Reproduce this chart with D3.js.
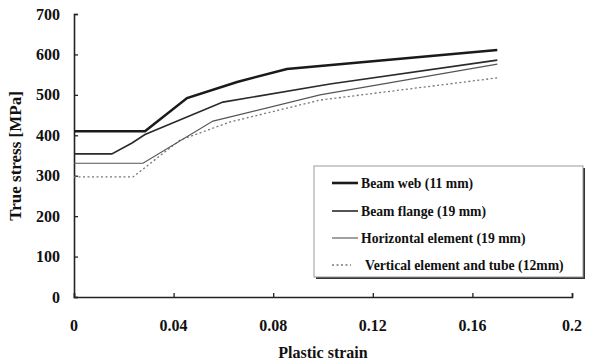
<!DOCTYPE html>
<html><head><meta charset="utf-8">
<script src="https://cdn.jsdelivr.net/npm/d3@7"></script>
<style>
body{margin:0;background:#fff;}
text{font-family:"Liberation Serif","Times New Roman",serif;font-weight:bold;fill:#111;}
</style></head>
<body><svg id="c" width="613" height="364"></svg>
<script>
const xTicks = [0, 0.04, 0.08, 0.12, 0.16, 0.2];
const xTickLabels = ["0", "0.04", "0.08", "0.12", "0.16", "0.2"];
const yTicks = [0, 100, 200, 300, 400, 500, 600, 700];
const seriesNames = ["Beam web (11 mm)", "Beam flange (19 mm)", "Horizontal element (19 mm)", "Vertical element and tube (12mm)"];
const beamWebStrain = [0, 0.0285, 0.0454, 0.0655, 0.0855, 0.17];
const beamWebStress = [410, 410, 492, 532, 564, 611];
const beamFlangeStrain = [0, 0.0152, 0.0233, 0.0285, 0.0598, 0.1028, 0.17];
const beamFlangeStress = [354, 354, 381, 402, 482, 527, 586];
const horizStrain = [0, 0.0277, 0.0558, 0.0988, 0.17];
const horizStress = [331, 331, 435, 500, 576];
const vertStrain = [0, 0.0237, 0.0426, 0.0627, 0.0988, 0.17];
const vertStress = [297, 297, 388, 433, 487, 542];

const styles = [
  {color:"#1a1a1a", width:2.6, dash:null},
  {color:"#2a2a2a", width:1.6, dash:null},
  {color:"#555", width:1.1, dash:null},
  {color:"#777", width:1.3, dash:"2,2.5"}
];
const series = [
  {name:seriesNames[0], xs:beamWebStrain, ys:beamWebStress},
  {name:seriesNames[1], xs:beamFlangeStrain, ys:beamFlangeStress},
  {name:seriesNames[2], xs:horizStrain, ys:horizStress},
  {name:seriesNames[3], xs:vertStrain, ys:vertStress}
];

const svg = d3.select("#c");
const x = d3.scaleLinear().domain([0, 0.2]).range([74, 572]);
const y = d3.scaleLinear().domain([0, 700]).range([297, 14]);

// axes
const gx = svg.append("g").attr("transform", `translate(0,${y(0)})`)
  .call(d3.axisTop(x).tickValues(xTicks).tickSize(4).tickFormat(""));
const gy = svg.append("g").attr("transform", `translate(${x(0)},0)`)
  .call(d3.axisRight(y).tickValues(yTicks).tickSize(4).tickFormat(""));
[gx, gy].forEach(g => {
  g.select(".domain").attr("stroke", "#222").attr("stroke-width", 1.6);
  g.selectAll(".tick line").attr("stroke", "#222").attr("stroke-width", 1.3);
});

svg.append("g").selectAll("text").data(xTicks).join("text")
  .attr("x", d => x(d)).attr("y", 331).attr("text-anchor", "middle")
  .attr("font-size", 16).text((d, i) => xTickLabels[i]);
svg.append("g").selectAll("text").data(yTicks).join("text")
  .attr("x", 60).attr("y", d => y(d) + 5.5).attr("text-anchor", "end")
  .attr("font-size", 16).text(d => d);

svg.append("text").attr("x", 323).attr("y", 358).attr("text-anchor", "middle")
  .attr("font-size", 16).text("Plastic strain");
svg.append("text").attr("transform", "translate(21,156) rotate(-90)")
  .attr("text-anchor", "middle").attr("font-size", 17).text("True stress [MPa]");

// lines
const line = d3.line().x(d => x(d[0])).y(d => y(d[1]));
series.slice().reverse().forEach((s, ri) => {
  const i = series.length - 1 - ri;
  const pts = s.xs.map((v, k) => [v, s.ys[k]]);
  svg.append("path").datum(pts).attr("d", line).attr("fill", "none")
    .attr("stroke", styles[i].color).attr("stroke-width", styles[i].width)
    .attr("stroke-dasharray", styles[i].dash);
});

// legend
const lg = svg.append("g");
lg.append("rect").attr("x", 316).attr("y", 168).attr("width", 269).attr("height", 111).attr("fill", "#333");
lg.append("rect").attr("x", 314).attr("y", 166).attr("width", 269).attr("height", 111)
  .attr("fill", "#fff").attr("stroke", "#999").attr("stroke-width", 1);
const rowsY = [183, 211, 238, 265];
series.forEach((s, i) => {
  lg.append("line").attr("x1", 332).attr("x2", i === 3 ? 351 : 358)
    .attr("y1", rowsY[i]).attr("y2", rowsY[i])
    .attr("stroke", styles[i].color).attr("stroke-width", styles[i].width)
    .attr("stroke-dasharray", styles[i].dash);
  lg.append("text").attr("x", i === 3 ? 365 : 361).attr("y", rowsY[i] + 4.5)
    .attr("font-size", 13.7).text(s.name);
});
</script></body></html>
